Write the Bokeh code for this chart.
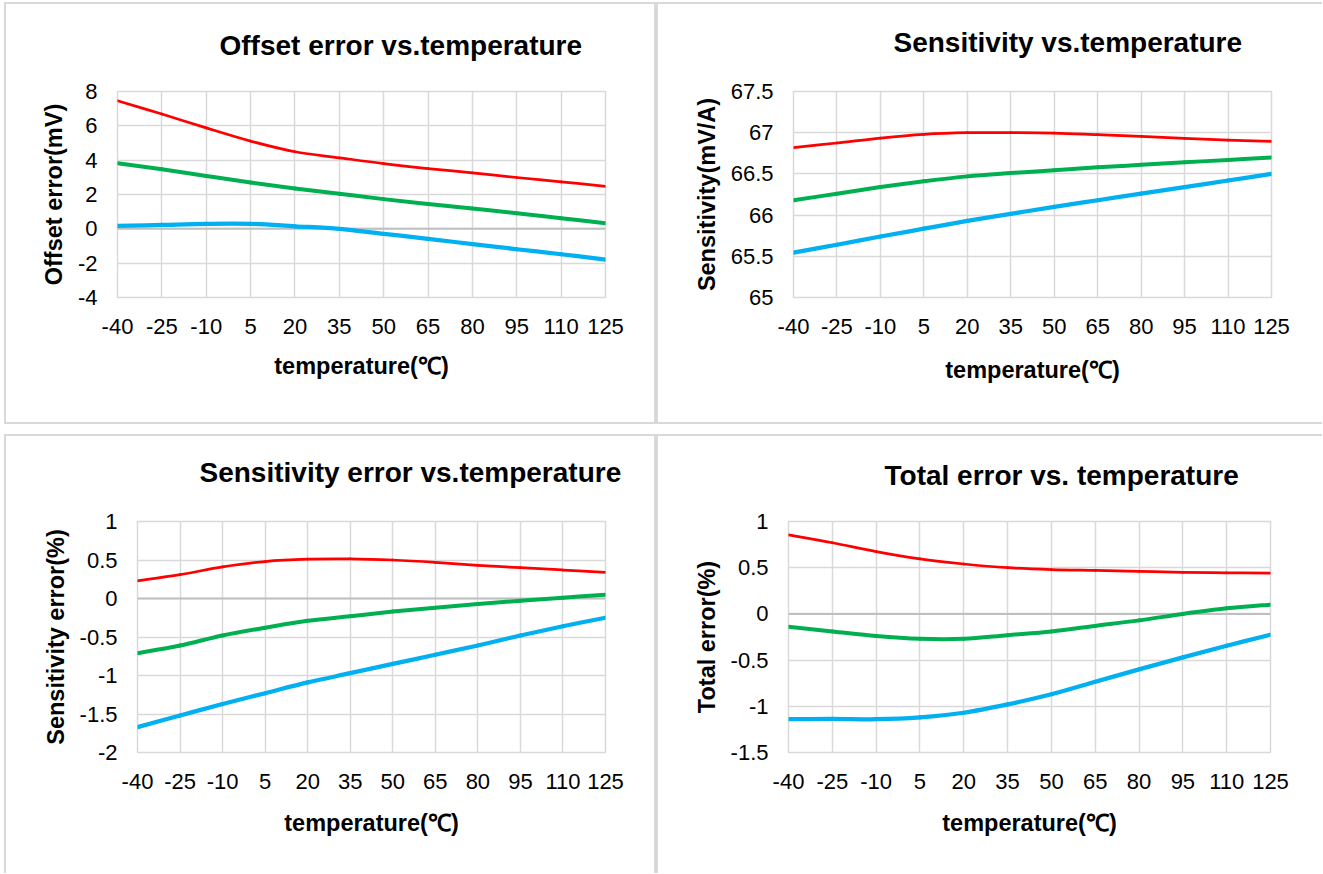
from bokeh.plotting import figure
from bokeh.models import (FixedTicker, CustomJSTickFormatter, Span, Title,
                          ColumnDataSource, Range1d)
from bokeh.layouts import row, column
from bokeh.embed import file_html
from bokeh.resources import INLINE

# ---------------- data ----------------
temps = [-40, -25, -10, 5, 20, 35, 50, 65, 80, 95, 110, 125]

offset_red = [7.46, 6.69, 5.88, 5.11, 4.49, 4.14, 3.80, 3.51, 3.26, 2.99, 2.74, 2.48]
offset_green = [3.82, 3.47, 3.08, 2.70, 2.35, 2.04, 1.73, 1.45, 1.18, 0.91, 0.62, 0.33]
offset_blue = [0.17, 0.23, 0.29, 0.29, 0.15, 0.0, -0.29, -0.58, -0.89, -1.19, -1.48, -1.79]

sens_red = [66.82, 66.875, 66.935, 66.98, 67.0, 67.0, 66.995, 66.976, 66.956, 66.93, 66.91, 66.895]
sens_green = [66.18, 66.26, 66.34, 66.41, 66.47, 66.51, 66.545, 66.58, 66.61, 66.64, 66.67, 66.70]
sens_blue = [65.545, 65.64, 65.74, 65.835, 65.93, 66.015, 66.10, 66.18, 66.26, 66.34, 66.42, 66.50]

serr_red = [0.23, 0.31, 0.41, 0.48, 0.51, 0.515, 0.50, 0.47, 0.43, 0.40, 0.37, 0.34]
serr_green = [-0.71, -0.61, -0.48, -0.38, -0.29, -0.23, -0.17, -0.12, -0.07, -0.03, 0.01, 0.05]
serr_blue = [-1.67, -1.52, -1.37, -1.23, -1.09, -0.97, -0.85, -0.73, -0.61, -0.48, -0.36, -0.25]

tot_red = [0.855, 0.77, 0.675, 0.595, 0.54, 0.50, 0.48, 0.47, 0.46, 0.45, 0.445, 0.44]
tot_green = [-0.14, -0.19, -0.24, -0.27, -0.27, -0.23, -0.19, -0.13, -0.07, 0.0, 0.06, 0.10]
tot_blue = [-1.14, -1.135, -1.14, -1.12, -1.07, -0.98, -0.87, -0.735, -0.60, -0.47, -0.345, -0.225]

offset_ticks = [-4, -2, 0, 2, 4, 6, 8]
sens_ticks = [65, 65.5, 66, 66.5, 67, 67.5]
serr_ticks = [-2, -1.5, -1, -0.5, 0, 0.5, 1]
tot_ticks = [-1.5, -1, -0.5, 0, 0.5, 1]

titles = ["Offset error vs.temperature", "Sensitivity vs.temperature",
          "Sensitivity error vs.temperature", "Total error vs. temperature"]
ylabels = ["Offset error(mV)", "Sensitivity(mV/A)", "Sensitivity error(%)", "Total error(%)"]
xlabel = "temperature(\u2103)"

RED, GREEN, BLUE = "#ff0000", "#00b050", "#00b0f0"
GRID = "#d9d9d9"
FONT = "Liberation Sans"
FMT = "return tick.toString()"


def smooth_source(xs, ys):
    """Cubic Bezier segments through the data points (Excel-like smoothing)."""
    n = len(xs)
    d = dict(x0=[], y0=[], x1=[], y1=[], cx0=[], cy0=[], cx1=[], cy1=[])
    for i in range(n - 1):
        im = max(i - 1, 0)
        ip2 = min(i + 2, n - 1)
        d["x0"].append(xs[i]); d["y0"].append(ys[i])
        d["x1"].append(xs[i + 1]); d["y1"].append(ys[i + 1])
        d["cx0"].append(xs[i] + (xs[i + 1] - xs[im]) / 6.0)
        d["cy0"].append(ys[i] + (ys[i + 1] - ys[im]) / 6.0)
        d["cx1"].append(xs[i + 1] - (xs[ip2] - xs[i]) / 6.0)
        d["cy1"].append(ys[i + 1] - (ys[ip2] - ys[i]) / 6.0)
    return ColumnDataSource(d)


def make_panel(w, h, mb, yr, yticks, title, toff, tstand, ylabel, xlab_stand,
               series, zero, shadow, margin):
    ml, mr, mt, mbot = mb
    p = figure(width=w, height=h, x_range=Range1d(-40, 125), y_range=Range1d(*yr),
               output_backend="svg", toolbar_location=None,
               min_border_left=ml, min_border_right=mr,
               min_border_top=mt, min_border_bottom=mbot,
               background_fill_color="white", border_fill_color="white",
               margin=margin, styles={"box-shadow": shadow})
    p.outline_line_color = GRID
    p.outline_line_width = 1.5
    p.xaxis.ticker = FixedTicker(ticks=temps)
    p.yaxis.ticker = FixedTicker(ticks=yticks)
    p.xaxis.formatter = CustomJSTickFormatter(code=FMT)
    p.yaxis.formatter = CustomJSTickFormatter(code=FMT)
    for ax in (p.xaxis[0], p.yaxis[0]):
        ax.axis_line_color = None
        ax.major_tick_line_color = None
        ax.minor_tick_line_color = None
        ax.major_tick_out = 0
        ax.major_tick_in = 0
        ax.major_label_text_font = FONT
        ax.major_label_text_font_size = "22px"
        ax.major_label_text_color = "#000000"
        ax.axis_label_text_font = FONT
        ax.axis_label_text_font_size = "23.5px"
        ax.axis_label_text_font_style = "bold"
        ax.axis_label_text_color = "#000000"
    p.xaxis.axis_label = xlabel
    p.yaxis.axis_label = ylabel
    p.xaxis.major_label_standoff = 21
    p.xaxis.axis_label_standoff = xlab_stand
    p.yaxis.major_label_standoff = 20
    p.yaxis.axis_label_standoff = 8
    p.xgrid.grid_line_color = GRID
    p.ygrid.grid_line_color = GRID
    p.xgrid.grid_line_width = 1.5
    p.ygrid.grid_line_width = 1.5
    if zero:
        p.add_layout(Span(location=0, dimension="width", line_color="#bfbfbf",
                          line_width=2, level="underlay"))
    for ys, col, lw in series:
        src = smooth_source(temps, ys)
        p.bezier(x0="x0", y0="y0", x1="x1", y1="y1", cx0="cx0", cy0="cy0",
                 cx1="cx1", cy1="cy1", source=src, line_color=col,
                 line_width=lw, line_cap="round")
    # spacer between the frame and the chart title
    spacer = max(mt - 38 - tstand, 0)
    p.add_layout(Title(text=" ", text_font=FONT, text_font_size="1px",
                       standoff=spacer), "above")
    p.add_layout(Title(text=title, text_font=FONT, text_font_size="28px",
                       text_font_style="bold", text_color="#000000",
                       align="left", offset=toff, vertical_align="top",
                       standoff=tstand), "above")
    return p


p1 = make_panel(648, 418, (111, 49, 87, 124), (-4, 8), offset_ticks, titles[0],
                102, 47, ylabels[0], 16,
                [(offset_red, RED, 2.75), (offset_green, GREEN, 4), (offset_blue, BLUE, 4.25)],
                True, "0 0 0 2px " + GRID, (4, 0, 0, 6))
p2 = make_panel(664, 418, (135, 51, 86, 125), (65, 67.5), sens_ticks, titles[1],
                100, 39, ylabels[1], 20,
                [(sens_red, RED, 2.75), (sens_green, GREEN, 4), (sens_blue, BLUE, 4.25)],
                False, "-1px -1px 0 1px %s, -1px 1px 0 1px %s" % (GRID, GRID), (4, 0, 0, 4))
p3 = make_panel(648, 437, (131, 49, 85, 121), (-2, 1), serr_ticks, titles[2],
                62, 37, ylabels[2], 18,
                [(serr_red, RED, 2.75), (serr_green, GREEN, 4), (serr_blue, BLUE, 4.25)],
                True, "-1px -1px 0 1px %s, 1px -1px 0 1px %s" % (GRID, GRID), (14, 0, 0, 6))
p4 = make_panel(664, 437, (130, 52, 85, 121), (-1.5, 1), tot_ticks, titles[3],
                96, 43, ylabels[3], 18,
                [(tot_red, RED, 2.75), (tot_green, GREEN, 4), (tot_blue, BLUE, 4.25)],
                True, "-1px -1px 0 1px " + GRID, (14, 0, 0, 4))

layout = column(row(p1, p2), row(p3, p4))

with open("out.html", "w") as f:
    f.write(file_html(layout, INLINE))
